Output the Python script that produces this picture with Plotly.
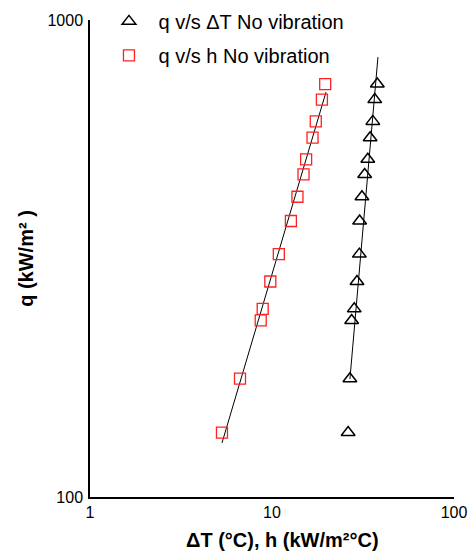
import plotly.graph_objects as go

# Data
q = [136.5, 177, 234.5, 248, 283, 323, 379, 426, 474.5, 510.5, 566.5, 613, 681, 734]
delta_t = [26.2, 26.8, 27.4, 28.3, 29.3, 30.2, 30.3, 31.2, 32.3, 33.6, 34.6, 35.8, 36.7, 37.9]
h = [5.31, 6.67, 8.67, 8.89, 9.79, 10.9, 12.7, 13.8, 14.9, 15.4, 16.7, 17.4, 18.8, 19.6]

# Power-law trendline end points
trend_dt_x = [26.8, 38.2]
trend_dt_q = [176.7, 836]
trend_h_x = [5.31, 19.8]
trend_h_q = [129.8, 706]

x_ticks = [1, 10, 100]
y_ticks = [100, 1000]

FONT = "Liberation Sans"

fig = go.Figure()
fig.add_trace(go.Scatter(x=trend_dt_x, y=trend_dt_q, mode="lines",
                         line=dict(color="black", width=1), showlegend=False, hoverinfo="skip"))
fig.add_trace(go.Scatter(x=trend_h_x, y=trend_h_q, mode="lines",
                         line=dict(color="black", width=1), showlegend=False, hoverinfo="skip"))
fig.add_trace(go.Scatter(x=delta_t, y=q, mode="markers", name="q v/s ΔT No vibration",
                         legendgroup="a",
                         marker=dict(symbol="triangle-up-open", size=12, color="black",
                                     line=dict(width=1.5, color="black"))))
fig.add_trace(go.Scatter(x=h, y=q, mode="markers", name="q v/s h No vibration",
                         legendgroup="b",
                         marker=dict(symbol="square-open", size=11, color="#ff2020",
                                     line=dict(width=1.3, color="#ff2020"))))

fig.update_layout(
    width=471, height=551,
    margin=dict(l=90, r=17, t=20, b=54, autoexpand=False),
    paper_bgcolor="white", plot_bgcolor="white",
    font=dict(family=FONT, size=16, color="black"),
    showlegend=True,
    legend=dict(x=0.026, y=1.038, xanchor="left", yanchor="top",
                font=dict(size=20, family=FONT), bgcolor="rgba(0,0,0,0)",
                tracegroupgap=5, traceorder="grouped", itemwidth=49),
    xaxis=dict(type="log", range=[0, 2], tickvals=x_ticks, ticktext=[str(v) for v in x_ticks],
               showgrid=False, zeroline=False, showline=True, linecolor="black", linewidth=1.5,
               ticks="", tickfont=dict(size=16), automargin=False),
    yaxis=dict(type="log", range=[2, 3], tickvals=y_ticks, ticktext=[str(v) for v in y_ticks],
               showgrid=False, zeroline=False, showline=True, linecolor="black", linewidth=1.5,
               ticks="", tickfont=dict(size=16), automargin=False, ticklabelstandoff=2,
               title=dict(text="<b>q (kW/m² )</b>", font=dict(size=20), standoff=8)),
    annotations=[dict(text="<b>ΔT (°C), h (kW/m²°C)</b>", xref="paper", yref="paper",
                      x=0.53, y=-0.09, xanchor="center", yanchor="middle", showarrow=False,
                      font=dict(size=20, family=FONT, color="black"))],
)

fig.write_html("out.html", config={"displayModeBar": False},
               post_script="document.body.style.margin='0';")
